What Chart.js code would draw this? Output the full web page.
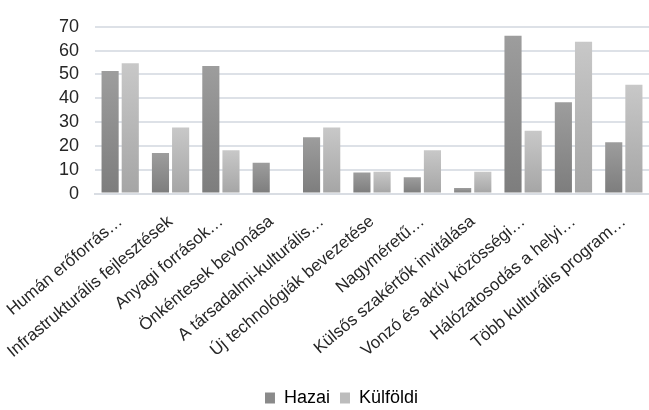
<!DOCTYPE html>
<html>
<head>
<meta charset="utf-8">
<script src="https://cdn.jsdelivr.net/npm/chart.js@4/dist/chart.umd.min.js"></script>
<style>
  html, body { margin: 0; padding: 0; background: #fff; }
  #wrap { width: 649px; height: 410px; }
</style>
</head>
<body>
<div id="wrap"><canvas id="chart"></canvas></div>
<script>
var kategoriak = [
  "Humán erőforrás…",
  "Infrastrukturális fejlesztések",
  "Anyagi források…",
  "Önkéntesek bevonása",
  "A társadalmi-kulturális…",
  "Új technológiák bevezetése",
  "Nagyméretű…",
  "Külsős szakértők invitálása",
  "Vonzó és aktív közösségi…",
  "Hálózatosodás a helyi…",
  "Több kulturális program…"
];
var hazai = [51.4, 17.0, 53.5, 12.9, 23.6, 8.8, 6.8, 2.3, 66.2, 38.3, 21.5];
var kulfoldi = [54.7, 27.7, 18.2, 0, 27.7, 9.2, 18.2, 9.2, 26.4, 63.7, 45.7];
var yTicks = [0, 10, 20, 30, 40, 50, 60, 70];

// gradient per bar: lighter on top, darker at the base
function gradient(top, bottom, solid) {
  return function (context) {
    var chart = context.chart;
    if (context.type !== "data" || !chart.chartArea) return solid;
    var y = chart.scales.y;
    var y0 = y.getPixelForValue(context.raw);
    var y1 = y.getPixelForValue(0);
    if (y1 - y0 < 1) return solid;
    var g = chart.ctx.createLinearGradient(0, y0, 0, y1);
    g.addColorStop(0, top);
    g.addColorStop(1, bottom);
    return g;
  };
}

// nudge the legend a bit lower and to the right, like the original
var legendShift = {
  id: "legendShift",
  afterLayout: function (chart) {
    var l = chart.legend;
    l.top += 7; l.bottom += 7;
    l.left += 17; l.right += 17;
  },
};

Chart.defaults.font.family = "'Liberation Sans', Arial, sans-serif";
Chart.defaults.color = "#262626";

var ctx = document.getElementById("chart").getContext("2d");
var grafikon = new Chart(ctx, {
  type: "bar",
  plugins: [legendShift],
  data: {
    labels: kategoriak,
    datasets: [
      {
        label: "Hazai",
        data: hazai,
        backgroundColor: gradient("#9d9d9d", "#7d7d7d", "#8a8a8a"),
      },
      {
        label: "Külföldi",
        data: kulfoldi,
        backgroundColor: gradient("#c8c8c8", "#a5a5a5", "#bcbcbc"),
      },
    ],
  },
  options: {
    responsive: true,
    maintainAspectRatio: false,
    animation: false,
    layout: { padding: { top: 0, right: 0, left: 0, bottom: 0 } },
    datasets: {
      bar: { categoryPercentage: 0.8, barPercentage: 0.85 },
    },
    scales: {
      x: {
        grid: { display: false },
        border: { color: "#d9dde3", width: 2 },
        afterFit: function (axis) {
          axis.paddingLeft = 0; // y axis width decides the left edge
        },
        ticks: {
          font: { size: 17 },
          color: "#262626",
          minRotation: 40,
          maxRotation: 40,
          autoSkip: false,
          padding: 10,
        },
      },
      y: {
        min: 0,
        max: 70,
        afterBuildTicks: function (axis) {
          axis.ticks = yTicks.map(function (v) { return { value: v }; });
        },
        afterFit: function (axis) {
          axis.width = 95;
        },
        grid: { color: "#dde1e7", lineWidth: 2, drawTicks: false },
        border: { display: false },
        ticks: { font: { size: 18 }, color: "#262626", padding: 16, autoSkip: false },
      },
    },
    plugins: {
      legend: {
        position: "bottom",
        labels: {
          font: { size: 18 },
          color: "#262626",
          boxWidth: 10,
          boxHeight: 11,
          padding: 10,
          generateLabels: function (chart) {
            var colors = ["#8a8a8a", "#bcbcbc"];
            return chart.data.datasets.map(function (ds, i) {
              return {
                text: ds.label,
                fillStyle: colors[i],
                strokeStyle: colors[i],
                lineWidth: 0,
                datasetIndex: i,
                hidden: false,
              };
            });
          },
        },
      },
      tooltip: { enabled: false },
    },
  },
});
</script>
</body>
</html>
